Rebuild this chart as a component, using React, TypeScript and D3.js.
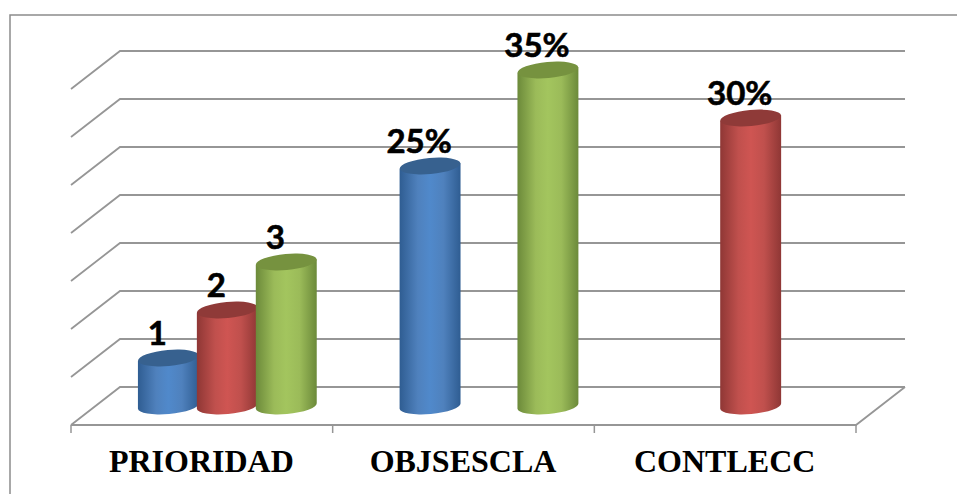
import * as d3 from "d3";

const categories = ["PRIORIDAD", "OBJSESCLA", "CONTLECC"];
const seriesNames = ["a", "b", "c"];
const seriesA = [5, 25, null];
const seriesB = [10, null, 30];
const seriesC = [15, 35, null];
const labelsA = ["1", "25%", ""];
const labelsB = ["2", "", "30%"];
const labelsC = ["3", "35%", ""];
const yTicks = [0, 5, 10, 15, 20, 25, 30, 35];

const colors = [
  { dark: "#2f5d92", mid: "#4f81bd", light: "#5089cb", top: "#37618f" },
  { dark: "#8f3735", mid: "#c0504d", light: "#cf5552", top: "#8f3a38" },
  { dark: "#6c8a3a", mid: "#9bbb59", light: "#a3c55e", top: "#76923f" },
];

const width = 957;
const height = 494;
const depthX = 49;
const depthY = -38;

export default function App() {
  const x = d3.scaleBand<string>().domain(categories).range([71, 856]);
  const inner = d3
    .scaleBand<string>()
    .domain(seriesNames)
    .range([0, x.bandwidth()])
    .paddingInner(0)
    .paddingOuter(0.72);
  const y = d3.scaleLinear().domain([0, 35]).range([425, 89]);

  const series = [seriesA, seriesB, seriesC];
  const labels = [labelsA, labelsB, labelsC];
  const ticks = [...categories.map((c) => x(c)!), 856];
  const rx = inner.bandwidth() / 2 + 1;
  const ry = 8;
  const tilt = -5;
  const barShift = { x: 25.5, y: -19 };

  return (
    <svg
      width={width}
      height={height}
      style={{ position: "absolute", left: 0, top: 0, background: "#fff" }}
    >
      <defs>
        {colors.map((c, i) => (
          <linearGradient id={`cyl${i}`} key={i} x1="0" x2="1" y1="0" y2="0">
            <stop offset="0" stopColor={c.dark} />
            <stop offset="0.3" stopColor={c.mid} />
            <stop offset="0.5" stopColor={c.light} />
            <stop offset="0.72" stopColor={c.mid} />
            <stop offset="1" stopColor={c.dark} />
          </linearGradient>
        ))}
      </defs>

      {/* frame */}
      <path d="M10,494V15H957" fill="none" stroke="#8c8c8c" strokeWidth={1.5} />

      {/* grid */}
      {yTicks.map((t) => (
        <path
          key={t}
          d={`M${71},${y(t)}L${71 + depthX},${y(t) + depthY}H${856 + depthX}`}
          fill="none"
          stroke="#969696"
          strokeWidth={1.8}
        />
      ))}
      <path
        d={`M71,${y(0)}H856L${856 + depthX},${y(0) + depthY}`}
        fill="none"
        stroke="#969696"
        strokeWidth={1.8}
      />
      {ticks.map((t) => (
        <line key={t} x1={t} x2={t} y1={y(0)} y2={y(0) + 8} stroke="#969696" strokeWidth={1.5} />
      ))}

      {/* bars */}
      {categories.map((cat, ci) =>
        series.map((values, si) => {
          const v = values[ci];
          if (v == null) return null;
          const cx = x(cat)! + inner(seriesNames[si])! + inner.bandwidth() / 2 + barShift.x;
          const top = y(v) + barShift.y;
          const bottom = y(0) + barShift.y;
          const slope = rx * Math.tan((tilt * Math.PI) / 180);
          const body =
            `M${cx - rx},${top - slope}` +
            `L${cx - rx},${bottom - slope}` +
            `A${rx},${ry} ${tilt} 0 0 ${cx + rx},${bottom + slope}` +
            `L${cx + rx},${top + slope}Z`;
          return (
            <g key={`${ci}-${si}`}>
              <path d={body} fill={`url(#cyl${si})`} />
              <ellipse
                cx={cx}
                cy={top}
                rx={rx}
                ry={ry}
                fill={colors[si].top}
                transform={`rotate(${tilt} ${cx} ${top})`}
              />
              <text
                x={cx - 11}
                y={top - 13}
                textAnchor="middle"
                fontFamily="Lato, sans-serif"
                fontWeight={700}
                fontSize={33}
                stroke="#000"
                strokeWidth={0.6}
                fill="#000"
              >
                {labels[si][ci]}
              </text>
            </g>
          );
        })
      )}

      {/* category labels */}
      {categories.map((cat) => (
        <text
          key={cat}
          x={x(cat)! + x.bandwidth() / 2 - 0.5}
          y={472}
          textAnchor="middle"
          fontFamily="'Liberation Serif', serif"
          fontWeight={700}
          fontSize={32}
          fill="#000"
        >
          {cat}
        </text>
      ))}
    </svg>
  );
}
